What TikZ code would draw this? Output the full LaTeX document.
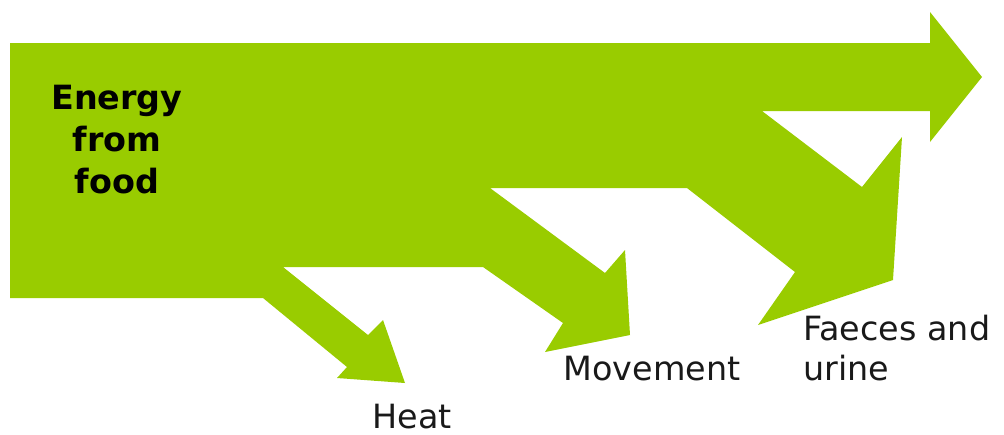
\documentclass[tikz,border=0pt]{standalone}
\usepackage{fontspec}
\setmainfont{DejaVu Sans}
\definecolor{leafgreen}{RGB}{153,204,0}
\tikzset{
  flowtext/.style={inner sep=0pt, text=black!90, font=\fontsize{19}{23.8}\selectfont},
}
\begin{document}
\begin{tikzpicture}[x=0.02cm, y=-0.02cm]
\useasboundingbox (0, 0) rectangle (1004, 434);
\fill [leafgreen] (10, 43) -- (930, 43) -- (930, 12) -- (982, 77) -- (930, 142) -- (930, 111)
  -- (762, 111) -- (862, 187) -- (902, 137) -- (893, 280) -- (758, 325) -- (795, 272) -- (687, 188)
  -- (490, 188) -- (605, 273) -- (625, 250) -- (630, 335) -- (545, 352) -- (563, 323) -- (483, 267)
  -- (283, 267) -- (368, 335) -- (383, 320) -- (405, 383) -- (337, 378) -- (347, 367) -- (263, 298)
  -- (10, 298) -- cycle;
\node [flowtext, anchor=north, align=center, text=black, font=\fontsize{19}{23.8}\selectfont\bfseries] (energy) at (117, 85) {Energy\\from\\food};
\node [flowtext, anchor=base] (heat) at (412, 428) {Heat};
\node [flowtext, anchor=base] (movement) at (652, 380) {Movement};
\node [flowtext, anchor=north west, align=left, font=\fontsize{19}{22.8}\selectfont] (waste) at (803, 315) {Faeces and\\urine};
\end{tikzpicture}
\end{document}
